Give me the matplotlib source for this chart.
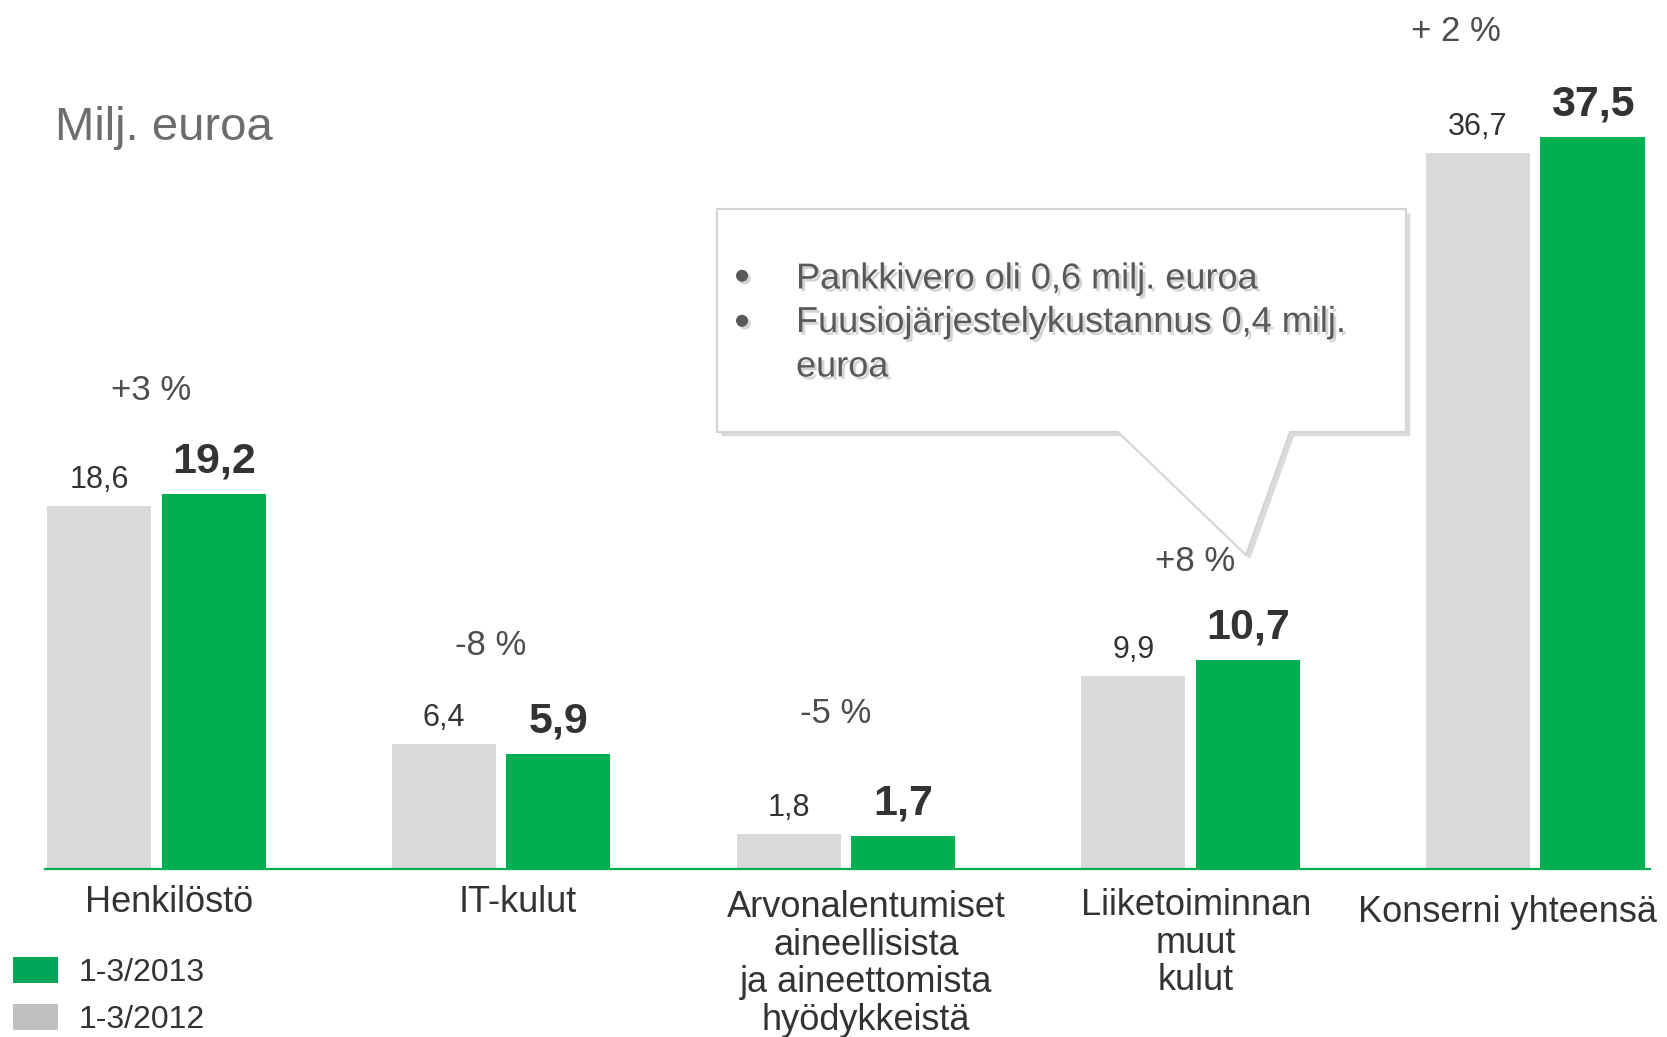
import matplotlib
matplotlib.use("Agg")
import matplotlib.pyplot as plt
import matplotlib.patheffects as pe
import matplotlib.transforms as mtransforms
from matplotlib import font_manager
from matplotlib.patches import Patch, Polygon

# data
categories = [
    "Henkilöstö",
    "IT-kulut",
    "Arvonalentumiset\naineellisista\nja aineettomista\nhyödykkeistä",
    "Liiketoiminnan\nmuut\nkulut",
    "Konserni yhteensä",
]
values_2012 = [18.6, 6.4, 1.8, 9.9, 36.7]
values_2013 = [19.2, 5.9, 1.7, 10.7, 37.5]
labels_2012 = ["18,6", "6,4", "1,8", "9,9", "36,7"]
labels_2013 = ["19,2", "5,9", "1,7", "10,7", "37,5"]
changes = ["+3 %", "-8 %", "-5 %", "+8 %", "+ 2 %"]
series_names = ["1-3/2013", "1-3/2012"]
callout_lines = ["Pankkivero oli 0,6 milj. euroa", "Fuusiojärjestelykustannus 0,4 milj.\neuroa"]

# layout (pixels of the 1667x1037 canvas)
W, H = 1667, 1037
group_px0, group_step = 156.5, 344.7
base_px, unit_px = 869, 19.52
bar_w, bar_off = 0.302, 0.166
change_pos = [(-0.015, 24.5), (-0.03, 11.45), (-0.03, 7.95), (0.012, 15.75), (-0.23, 42.9)]
cat_pos = [(0.036, 885), (0.048, 885), (0.058, 890), (0.015, 888), (-0.08, 895)]

GREEN = "#00b050"
GRAY = "#d9d9d9"
TXT = "#333333"

names = {f.name for f in font_manager.fontManager.ttflist}
NARROW = "Liberation Sans Narrow" if "Liberation Sans Narrow" in names else "Liberation Sans"
plt.rcParams["font.family"] = ["Liberation Sans", "DejaVu Sans"]

fig = plt.figure(figsize=(W / 100, H / 100), dpi=100)
ax = fig.add_axes([0, 0, 1, 1])
ax.set_xlim(-group_px0 / group_step, (W - group_px0) / group_step)
ax.set_ylim(-(H - base_px) / unit_px, base_px / unit_px)
ax.axis("off")

# pixel transform, origin top-left
px = mtransforms.Affine2D().scale(1 / W, -1 / H).translate(0, 1) + fig.transFigure

x = list(range(len(categories)))
x_gray = [i - bar_off for i in x]
x_green = [i + bar_off for i in x]
ax.bar(x_gray, values_2012, width=bar_w, color=GRAY, zorder=2)
ax.bar(x_green, values_2013, width=bar_w, color=GREEN, zorder=2)
ax.axhline(0, xmin=45 / W, xmax=1650 / W, color=GREEN, lw=1.6, zorder=3)

for xi, v, lab in zip(x_gray, values_2012, labels_2012):
    ax.annotate(lab, (xi, v), xytext=(0, 13), textcoords="offset points",
                ha="center", va="baseline", fontsize=22, color=TXT, family=NARROW)
for xi, v, lab in zip(x_green, values_2013, labels_2013):
    ax.annotate(lab, (xi, v), xytext=(0, 15.5), textcoords="offset points",
                ha="center", va="baseline", fontsize=31, color=TXT,
                family=NARROW, fontweight="bold")

for xi, ch, (dx, y) in zip(x, changes, change_pos):
    ax.text(xi + dx, y, ch, ha="center", va="center", fontsize=25, color="#4d4d4d")

for xi, cat, (dx, ytop) in zip(x, categories, cat_pos):
    ax.text(xi + dx, (base_px - ytop) / unit_px, cat, ha="center", va="top",
            fontsize=26, color=TXT, linespacing=1.1)

ax.text(55, 128, "Milj. euroa", transform=px, ha="left", va="center",
        fontsize=34, color="#6d6d6d")

# callout box
shape = Polygon([(717, 209), (1406, 209), (1406, 432), (1290, 432), (1246, 555),
                 (1118, 432), (717, 432)], closed=True, transform=px,
                facecolor="white", edgecolor="#d4d4d4", lw=1.5, zorder=4)
shape.set_path_effects([pe.SimplePatchShadow(offset=(3, -3), shadow_rgbFace="#c4c4c4", alpha=0.6),
                        pe.Normal()])
ax.add_patch(shape)
shadow = [pe.withSimplePatchShadow(offset=(2, -2), shadow_rgbFace="#aaaaaa", alpha=0.5)]
for y in [279, 324]:
    ax.text(742, y, "•", transform=px, ha="center", va="center", fontsize=32,
            color="#595959", zorder=5, path_effects=shadow)
for y, line in zip([279, 305], callout_lines):
    ax.text(796, y, line, transform=px, ha="left",
            va="top" if "\n" in line else "center",
            fontsize=26, color="#595959", zorder=5, path_effects=shadow,
            linespacing=1.35)

# legend
handles = [Patch(facecolor="#00a558"), Patch(facecolor="#bfbfbf")]
fig.legend(handles, series_names, loc="lower left", bbox_to_anchor=(13 / W, 2 / H),
           frameon=False, fontsize=23, handlelength=1.4, handleheight=0.88,
           handletextpad=0.65, labelspacing=0.5, borderpad=0, borderaxespad=0,
           labelcolor=TXT)

fig.savefig("out.png", dpi=100)
